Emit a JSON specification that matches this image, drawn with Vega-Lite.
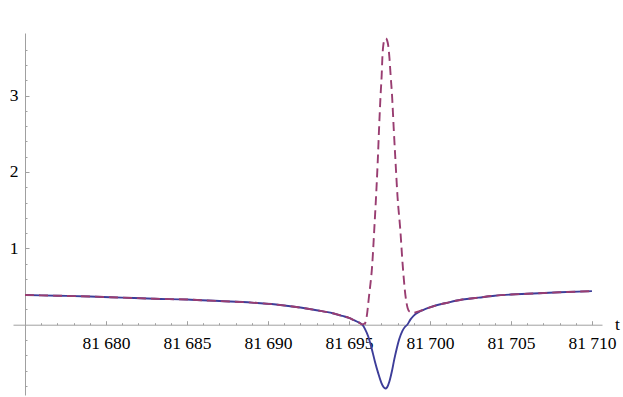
{
  "$schema": "https://vega.github.io/schema/vega-lite/v6.json",
  "width": 589,
  "height": 362,
  "autosize": {"type": "none"},
  "padding": {"left": 13, "top": 33, "right": 21, "bottom": 2},
  "background": "white",
  "config": {"view": {"stroke": null}, "font": "'Liberation Serif', 'Times New Roman', serif"},
  "datasets": {
    "curves": [
      {"t": 81675, "v": 0.39, "s": "a"}, {"t": 81677, "v": 0.38, "s": "a"}, {"t": 81679, "v": 0.37, "s": "a"},
      {"t": 81681, "v": 0.355, "s": "a"}, {"t": 81683, "v": 0.34, "s": "a"}, {"t": 81685, "v": 0.33, "s": "a"},
      {"t": 81687, "v": 0.31, "s": "a"}, {"t": 81689, "v": 0.29, "s": "a"}, {"t": 81690.5, "v": 0.265, "s": "a"},
      {"t": 81692, "v": 0.225, "s": "a"}, {"t": 81693, "v": 0.19, "s": "a"}, {"t": 81694, "v": 0.15, "s": "a"},
      {"t": 81694.6, "v": 0.115, "s": "a"}, {"t": 81695, "v": 0.09, "s": "a"}, {"t": 81695.3, "v": 0.06, "s": "a"},
      {"t": 81695.6, "v": 0.03, "s": "a"}, {"t": 81695.82, "v": 0.0, "s": "a"}, {"t": 81696.0, "v": -0.06, "s": "a"},
      {"t": 81696.2, "v": -0.16, "s": "a"}, {"t": 81696.4, "v": -0.31, "s": "a"}, {"t": 81696.6, "v": -0.48, "s": "a"},
      {"t": 81696.8, "v": -0.63, "s": "a"}, {"t": 81697.0, "v": -0.76, "s": "a"}, {"t": 81697.15, "v": -0.82, "s": "a"},
      {"t": 81697.25, "v": -0.835, "s": "a"}, {"t": 81697.35, "v": -0.82, "s": "a"}, {"t": 81697.5, "v": -0.74, "s": "a"},
      {"t": 81697.65, "v": -0.61, "s": "a"}, {"t": 81697.8, "v": -0.45, "s": "a"}, {"t": 81697.95, "v": -0.31, "s": "a"},
      {"t": 81698.1, "v": -0.19, "s": "a"}, {"t": 81698.3, "v": -0.08, "s": "a"}, {"t": 81698.45, "v": -0.03, "s": "a"},
      {"t": 81698.6, "v": 0.0, "s": "a"}, {"t": 81698.8, "v": 0.07, "s": "a"}, {"t": 81699.0, "v": 0.12, "s": "a"},
      {"t": 81699.3, "v": 0.165, "s": "a"}, {"t": 81699.6, "v": 0.195, "s": "a"}, {"t": 81699.9, "v": 0.22, "s": "a"},
      {"t": 81700.4, "v": 0.255, "s": "a"}, {"t": 81701, "v": 0.285, "s": "a"}, {"t": 81702, "v": 0.33, "s": "a"},
      {"t": 81703, "v": 0.355, "s": "a"}, {"t": 81704, "v": 0.38, "s": "a"}, {"t": 81705, "v": 0.395, "s": "a"},
      {"t": 81706, "v": 0.405, "s": "a"}, {"t": 81708, "v": 0.425, "s": "a"}, {"t": 81710, "v": 0.44, "s": "a"},

      {"t": 81675, "v": 0.39, "s": "b"}, {"t": 81677, "v": 0.38, "s": "b"}, {"t": 81679, "v": 0.37, "s": "b"},
      {"t": 81681, "v": 0.355, "s": "b"}, {"t": 81683, "v": 0.34, "s": "b"}, {"t": 81685, "v": 0.33, "s": "b"},
      {"t": 81687, "v": 0.31, "s": "b"}, {"t": 81689, "v": 0.29, "s": "b"}, {"t": 81690.5, "v": 0.265, "s": "b"},
      {"t": 81692, "v": 0.225, "s": "b"}, {"t": 81693, "v": 0.19, "s": "b"}, {"t": 81694, "v": 0.15, "s": "b"},
      {"t": 81694.6, "v": 0.115, "s": "b"}, {"t": 81695, "v": 0.09, "s": "b"}, {"t": 81695.3, "v": 0.06, "s": "b"},
      {"t": 81695.6, "v": 0.03, "s": "b"}, {"t": 81695.82, "v": 0.005, "s": "b"}, {"t": 81695.99, "v": 0.02, "s": "b"},
      {"t": 81696.09, "v": 0.1, "s": "b"}, {"t": 81696.23, "v": 0.36, "s": "b"}, {"t": 81696.44, "v": 0.8, "s": "b"},
      {"t": 81696.56, "v": 1.24, "s": "b"}, {"t": 81696.67, "v": 1.67, "s": "b"}, {"t": 81696.77, "v": 2.11, "s": "b"},
      {"t": 81696.86, "v": 2.58, "s": "b"}, {"t": 81696.95, "v": 3.0, "s": "b"}, {"t": 81697.02, "v": 3.27, "s": "b"},
      {"t": 81697.06, "v": 3.49, "s": "b"}, {"t": 81697.12, "v": 3.66, "s": "b"}, {"t": 81697.2, "v": 3.73, "s": "b"},
      {"t": 81697.28, "v": 3.75, "s": "b"}, {"t": 81697.36, "v": 3.72, "s": "b"}, {"t": 81697.42, "v": 3.66, "s": "b"},
      {"t": 81697.5, "v": 3.49, "s": "b"}, {"t": 81697.57, "v": 3.27, "s": "b"}, {"t": 81697.66, "v": 3.0, "s": "b"},
      {"t": 81697.76, "v": 2.58, "s": "b"}, {"t": 81697.88, "v": 2.11, "s": "b"}, {"t": 81698.0, "v": 1.67, "s": "b"},
      {"t": 81698.17, "v": 1.24, "s": "b"}, {"t": 81698.31, "v": 0.8, "s": "b"}, {"t": 81698.5, "v": 0.36, "s": "b"},
      {"t": 81698.62, "v": 0.22, "s": "b"}, {"t": 81698.75, "v": 0.17, "s": "b"}, {"t": 81698.97, "v": 0.155, "s": "b"},
      {"t": 81699.3, "v": 0.175, "s": "b"}, {"t": 81699.6, "v": 0.195, "s": "b"}, {"t": 81699.9, "v": 0.22, "s": "b"},
      {"t": 81700.4, "v": 0.255, "s": "b"}, {"t": 81701, "v": 0.285, "s": "b"}, {"t": 81702, "v": 0.33, "s": "b"},
      {"t": 81703, "v": 0.355, "s": "b"}, {"t": 81704, "v": 0.38, "s": "b"}, {"t": 81705, "v": 0.395, "s": "b"},
      {"t": 81706, "v": 0.405, "s": "b"}, {"t": 81708, "v": 0.425, "s": "b"}, {"t": 81710, "v": 0.44, "s": "b"}
    ]
  },
  "data": {"name": "curves"},
  "encoding": {
    "x": {
      "field": "t",
      "type": "quantitative",
      "scale": {"domain": [81674.26, 81710.62], "nice": false, "zero": false},
      "axis": {
        "orient": "bottom",
        "offset": -70.3,
        "values": [81676, 81677, 81678, 81679, 81680, 81681, 81682, 81683, 81684, 81685, 81686, 81687, 81688, 81689, 81690, 81691, 81692, 81693, 81694, 81695, 81696, 81697, 81698, 81699, 81700, 81701, 81702, 81703, 81704, 81705, 81706, 81707, 81708, 81709, 81710],
        "labelExpr": "datum.value % 5 === 0 ? replace(format(datum.value, ','), ',', ' ') : ''",
        "tickSize": {"condition": {"test": "datum.value % 5 === 0", "value": -4}, "value": -2},
        "tickColor": "#a0a0a0",
        "tickWidth": 1,
        "domainColor": "#a0a0a0",
        "domainWidth": 1,
        "grid": false,
        "labelFont": "'Liberation Serif', 'Times New Roman', serif",
        "labelFontSize": 17.5,
        "labelColor": "#000000",
        "labelPadding": 13.5,
        "labelOverlap": false,
        "labelFlush": false,
        "labelBound": false,
        "title": "t",
        "titleFont": "'Liberation Serif', 'Times New Roman', serif",
        "titleFontSize": 17.5,
        "titleFontWeight": "normal",
        "titleColor": "#000000",
        "titleX": 604,
        "titleY": 9,
        "titleAlign": "center",
        "titleBaseline": "bottom",
        "titleAngle": 0
      }
    },
    "y": {
      "field": "v",
      "type": "quantitative",
      "scale": {"domain": [-0.92, 3.82], "nice": false, "zero": false},
      "axis": {
        "orient": "left",
        "offset": -12,
        "values": [-0.8, -0.6, -0.4, -0.2, 0.2, 0.4, 0.6, 0.8, 1, 1.2, 1.4, 1.6, 1.8, 2, 2.2, 2.4, 2.6, 2.8, 3, 3.2, 3.4, 3.6],
        "labelExpr": "(datum.value === 1 || datum.value === 2 || datum.value === 3) ? format(datum.value, 'd') : ''",
        "tickSize": {"condition": {"test": "datum.value === 1 || datum.value === 2 || datum.value === 3", "value": -4}, "value": -2},
        "tickColor": "#a0a0a0",
        "tickWidth": 1,
        "domainColor": "#a0a0a0",
        "domainWidth": 1,
        "grid": false,
        "labelFont": "'Liberation Serif', 'Times New Roman', serif",
        "labelFontSize": 17.5,
        "labelColor": "#000000",
        "labelPadding": 11,
        "labelOverlap": false,
        "labelFlush": false,
        "labelBound": false,
        "title": null
      }
    }
  },
  "layer": [
    {
      "transform": [{"filter": "datum.s === 'a'"}],
      "mark": {"type": "line", "color": "#3D3D99", "strokeWidth": 1.9, "interpolate": "monotone", "clip": true}
    },
    {
      "transform": [{"filter": "datum.s === 'b'"}],
      "mark": {"type": "line", "color": "#993D71", "strokeWidth": 1.9, "strokeDash": [9, 5], "interpolate": "monotone", "clip": true}
    }
  ]
}
